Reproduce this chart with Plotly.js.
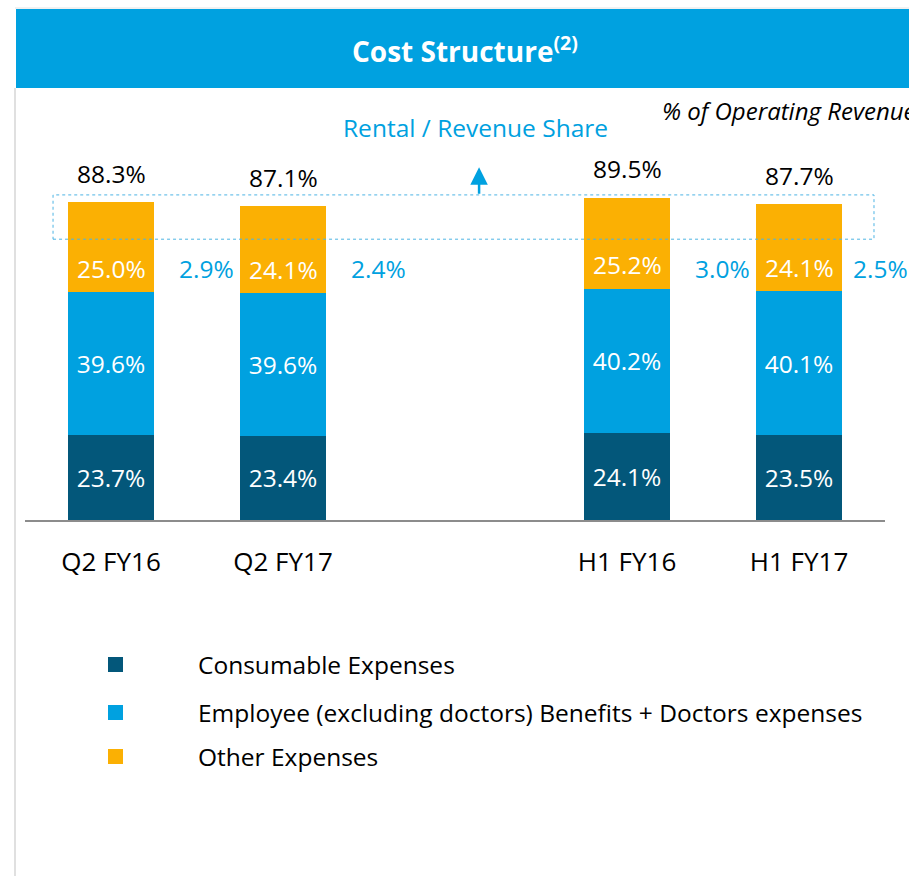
<!DOCTYPE html>
<html>
<head>
<meta charset="utf-8">
<script src="https://cdn.plot.ly/plotly-3.0.1.min.js"></script>
<style>
  html, body { margin:0; padding:0; background:#fff; }
  #chart { width:909px; height:876px; }
</style>
</head>
<body>
<div id="chart"></div>
<script>
// periods shown, with a blank slot between the quarter and half-year groups
const categories = ['Q2 FY16','Q2 FY17','H1 FY16','H1 FY17'];
const axisSlots = ['Q2 FY16','Q2 FY17',' ','H1 FY16','H1 FY17'];

const seriesNames = ['Consumable Expenses','Employee (excluding doctors) Benefits + Doctors expenses','Other Expenses'];
const consumable = [23.7, 23.4, 24.1, 23.5];
const employee = [39.6, 39.6, 40.2, 40.1];
const other = [25.0, 24.1, 25.2, 24.1];
const rentalShare = [2.9, 2.4, 3.0, 2.5];

const colors = ['#03577a', '#00a1e0', '#fbb003'];
const headBlue = '#00a1e0';
const font = "'Open Sans', 'Noto Sans', sans-serif";
const fs = 24.5;

// plot area in page pixels: x 25..885, y 88..520
const L = 25, R = 885, T = 88, B = 520;
const px = x => (x - L) / (R - L);
const py = y => (B - y) / (B - T);
const slotPx = (R - L) / axisSlots.length;

const pct = v => v.toFixed(1) + '%';
const totals = categories.map((c, i) => consumable[i] + employee[i] + other[i]);

const barTrace = (vals, i, showText) => ({
  type:'bar',
  name: seriesNames[i],
  x: categories,
  y: vals,
  width: 0.5,
  marker:{color: colors[i], line:{width:0}},
  text: showText ? vals.map(pct) : undefined,
  textposition: showText ? 'inside' : 'none',
  insidetextanchor:'middle',
  textfont:{color:'#fff', size:fs, family:font},
  hoverinfo:'skip',
  showlegend:false
});

const traces = [
  barTrace(consumable, 0, true),
  barTrace(employee, 1, true),
  barTrace(other, 2, false)
];

const annotations = [];

categories.forEach((c, i) => {
  // other expenses labels sit in the lower part of the orange block
  annotations.push({
    x: c, y: consumable[i] + employee[i], yshift: 24,
    text: pct(other[i]), showarrow:false,
    font:{color:'#fff', size:fs, family:font}
  });
  annotations.push({
    x: c, y: totals[i], yshift: 29,
    text: pct(totals[i]), showarrow:false,
    font:{color:'#000', size:fs, family:font}
  });
  // rental share just right of each bar, kept inside the page
  const centre = L + (axisSlots.indexOf(c) + 0.5) * slotPx;
  annotations.push({
    x: px(Math.min(centre + 66, 851)), xref:'paper', y: 70, xanchor:'left',
    text: pct(rentalShare[i]), showarrow:false,
    font:{color:headBlue, size:fs, family:font}
  });
});

// arrow pointing up to the rental / revenue share caption
annotations.push({
  x: 2.14, y: 98, ax: 0, ay: 28, axref:'pixel', ayref:'pixel',
  text:'', showarrow:true, arrowhead:2, arrowsize:1.4, arrowwidth:2.5, arrowcolor:headBlue
});
const pageText = (x, y, text, size, color, xanchor) => annotations.push({
  xref:'paper', yref:'paper', x: px(x), y: py(y), xanchor: xanchor || 'center', yanchor:'middle',
  text, showarrow:false, font:{color, size, family:font}
});
pageText(475, 127, 'Rental / Revenue Share', fs, headBlue);
pageText(660, 110, '<i>% of Operating Revenue</i>', 24, '#000', 'left');
pageText(465, 49, '<b>Cost Structure<sup>(2)</sup></b>', 28, '#fff');

// legend rows
const legendRows = [664, 712, 756];
const shapes = [
  {type:'rect', xref:'paper', yref:'paper', x0: px(16), x1: px(912), y0: py(88), y1: py(9),
   fillcolor: headBlue, line:{width:0}, layer:'below'},
  {type:'line', xref:'paper', yref:'paper', x0: px(15), x1: px(15), y0: py(88), y1: py(880),
   line:{color:'#d6d6d6', width:1.5}},
  {type:'line', xref:'paper', yref:'paper', x0: px(15), x1: px(912), y0: py(8), y1: py(8),
   line:{color:'#e2e2e2', width:1}},
  {type:'rect', xref:'x', yref:'y', x0: -0.337, x1: 4.436, y0: 78, y1: 90.3,
   line:{color:'#4db4e4', width:1, dash:'dot'}, fillcolor:'rgba(0,0,0,0)'}
];
seriesNames.forEach((n, i) => {
  const yc = legendRows[i];
  shapes.push({type:'rect', xref:'paper', yref:'paper',
    x0: px(108), x1: px(123), y0: py(yc + 8), y1: py(yc - 7),
    fillcolor: colors[i], line:{width:0}});
  pageText(196, yc, n, fs, '#000', 'left');
});

Plotly.newPlot('chart', traces, {
  width:909, height:876,
  margin:{l:L, r:909 - R, t:T, b:876 - B, pad:0},
  paper_bgcolor:'#fff', plot_bgcolor:'#fff',
  barmode:'stack',
  font:{family:font, size:fs, color:'#000'},
  xaxis:{
    type:'category', categoryorder:'array', categoryarray: axisSlots,
    range:[-0.5, 4.5], showgrid:false, zeroline:false,
    showline:true, linecolor:'#8c8c8c', linewidth:2,
    ticks:'', ticklabelstandoff:18,
    tickfont:{size:26, family:font, color:'#000'}, fixedrange:true
  },
  yaxis:{
    range:[0, 120], visible:false, showgrid:false, zeroline:false, fixedrange:true
  },
  shapes, annotations,
  showlegend:false
}, {displayModeBar:false, staticPlot:true});
</script>
</body>
</html>
